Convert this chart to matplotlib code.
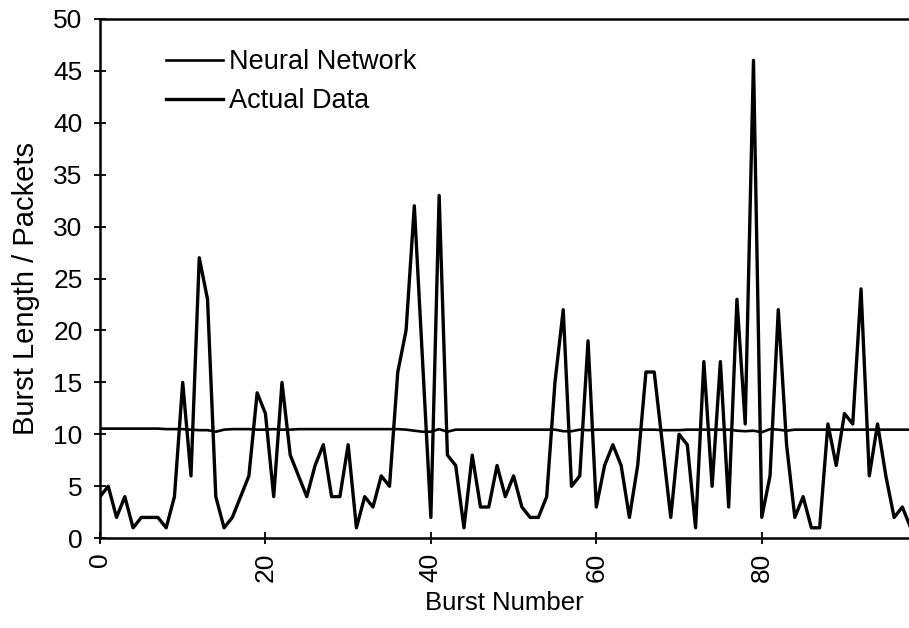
import matplotlib
matplotlib.use("Agg")
import matplotlib.pyplot as plt

plt.rcParams['font.family'] = ['Liberation Sans', 'DejaVu Sans']

# burst lengths, burst 0..98
actual = [4, 5, 2, 4, 1, 2, 2, 2, 1, 4,
          15, 6, 27, 23, 4, 1, 2, 4, 6, 14,
          12, 4, 15, 8, 6, 4, 7, 9, 4, 4,
          9, 1, 4, 3, 6, 5, 16, 20, 32, 17,
          2, 33, 8, 7, 1, 8, 3, 3, 7, 4,
          6, 3, 2, 2, 4, 15, 22, 5, 6, 19,
          3, 7, 9, 7, 2, 7, 16, 16, 9, 2,
          10, 9, 1, 17, 5, 17, 3, 23, 11, 46,
          2, 6, 22, 9, 2, 4, 1, 1, 11, 7,
          12, 11, 24, 6, 11, 6, 2, 3, 1]

neural = [10.55, 10.55, 10.55, 10.55, 10.55, 10.55, 10.55, 10.55, 10.5, 10.5,
          10.5, 10.45, 10.4, 10.4, 10.25, 10.45, 10.5, 10.5, 10.5, 10.45,
          10.45, 10.5, 10.45, 10.45, 10.5, 10.5, 10.5, 10.5, 10.5, 10.5,
          10.5, 10.5, 10.5, 10.5, 10.5, 10.5, 10.5, 10.45, 10.35, 10.25,
          10.25, 10.5, 10.25, 10.45, 10.45, 10.45, 10.45, 10.45, 10.45, 10.45,
          10.45, 10.45, 10.45, 10.45, 10.45, 10.45, 10.3, 10.3, 10.45, 10.4,
          10.45, 10.45, 10.45, 10.45, 10.45, 10.45, 10.45, 10.45, 10.4, 10.4,
          10.4, 10.45, 10.45, 10.45, 10.45, 10.45, 10.45, 10.35, 10.3, 10.35,
          10.2, 10.5, 10.45, 10.35, 10.45, 10.45, 10.45, 10.45, 10.45, 10.45,
          10.45, 10.45, 10.45, 10.45, 10.45, 10.45, 10.45, 10.45, 10.45]

bursts = list(range(len(actual)))

fig = plt.figure(figsize=(9.09, 6.28), dpi=100)
ax = fig.add_axes([0.110, 0.143, 0.890, 0.827])

ax.plot(bursts, neural, color='black', lw=1.9, label='Neural Network')
ax.plot(bursts, actual, color='black', lw=2.4, label='Actual Data')

ax.set_xlim(0, 97.8)
ax.set_ylim(0, 50)
ax.set_xticks([0, 20, 40, 60, 80])
ax.set_yticks(range(0, 51, 5))
ax.tick_params(axis='both', direction='inout', length=9, width=1.3,
               labelsize=19, colors='black')
ax.tick_params(axis='y', pad=8)
ax.tick_params(axis='x', labelrotation=90, pad=6)
for s in ['left', 'bottom', 'top']:
    ax.spines[s].set_linewidth(1.8)
ax.spines['right'].set_visible(False)

ax.set_xlabel('Burst Number', fontsize=18.5)
ax.set_ylabel('Burst Length / Packets', fontsize=21)
ax.xaxis.set_label_coords(0.5, -0.102)
ax.yaxis.set_label_coords(-0.074, 0.48)

ax.legend(loc='upper left', bbox_to_anchor=(0.052, 0.988), frameon=False,
          fontsize=19.5, handlelength=2.1, handletextpad=0.22, labelspacing=0.48)

fig.savefig('out.png', dpi=100)
